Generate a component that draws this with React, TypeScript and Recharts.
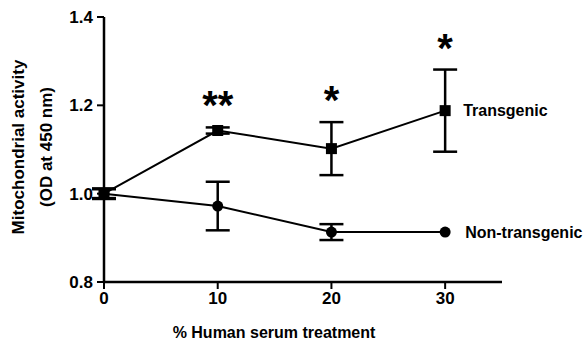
import React from 'react';
import { ComposedChart, Line, Scatter, XAxis, YAxis, ErrorBar, LabelList } from 'recharts';

// serum dose (%) and OD readings
const doses = [0, 10, 20, 30];
const transgenic = [1.0, 1.143, 1.102, 1.188];
const transgenicErr = [0.012, 0.007, 0.06, 0.093];
const nonTransgenic = [1.0, 0.972, 0.913, 0.913];
const nonTransgenicErr = [0.01, 0.055, 0.018, 0];
const significance = ['', '**', '*', '*'];
const xTicks = [0, 10, 20, 30];
const yTicks = [0.8, 1.0, 1.2, 1.4];

const font = '"Liberation Sans", Arial, sans-serif';

const data = doses.map((d, i) => ({
  dose: d,
  tg: transgenic[i],
  tgErr: transgenicErr[i],
  ntg: nonTransgenic[i],
  ntgErr: nonTransgenicErr[i] || undefined,
}));

const sigData = doses
  .map((d, i) => ({ dose: d, top: transgenic[i] + transgenicErr[i], sig: significance[i] }))
  .filter((d) => d.sig);

const SquareDot = (props: any) => {
  const { cx, cy } = props;
  return <rect key={`sq-${cx}`} x={cx - 5.5} y={cy - 5.5} width={11} height={11} fill="#000" />;
};

const RoundDot = (props: any) => {
  const { cx, cy } = props;
  return <circle key={`ci-${cx}`} cx={cx} cy={cy} r={5.5} fill="#000" />;
};

const Star = (props: any) => {
  const { cx, cy, payload } = props;
  return (
    <text x={cx} y={cy - 8} textAnchor="middle" fontSize={40} fontWeight="bold" fontFamily={font} fill="#000">
      {payload.sig}
    </text>
  );
};

const endLabel = (name: string, dx: number) => (props: any) => {
  const { x, y, value } = props;
  if (!value) return null;
  return (
    <text x={x + dx} y={y} dominantBaseline="central" fontSize={16} fontWeight="bold" fontFamily={font} fill="#000">
      {name}
    </text>
  );
};

const YTitle = () => (
  <g fontFamily={font} fontWeight="bold" fontSize={17} fill="#000">
    <text x={18} y={147} textAnchor="middle" dominantBaseline="central" transform="rotate(-90 18 147)">
      Mitochondrial activity
    </text>
    <text x={46} y={147} textAnchor="middle" dominantBaseline="central" transform="rotate(-90 46 147)">
      (OD at 450 nm)
    </text>
  </g>
);

const XTitle = () => (
  <text x={274} y={338} textAnchor="middle" fontFamily={font} fontWeight="bold" fontSize={16} fill="#000">
    % Human serum treatment
  </text>
);

export default function App() {
  return (
    <div style={{ position: 'absolute', left: 0, top: 0, width: 583, height: 350, background: '#fff' }}>
      <ComposedChart width={583} height={350} data={data} margin={{ top: 17, right: 81, left: 0, bottom: 0 }}>
        <XAxis
          dataKey="dose"
          type="number"
          domain={[0, 35]}
          ticks={xTicks}
          height={68}
          axisLine={{ stroke: '#000', strokeWidth: 2.5 }}
          tickLine={{ stroke: '#000', strokeWidth: 2 }}
          tickSize={7}
          tickMargin={3}
          tick={{ fill: '#000', fontSize: 17, fontWeight: 'bold', fontFamily: font }}
          label={{ content: () => <XTitle /> }}
        />
        <YAxis
          type="number"
          domain={[0.8, 1.4]}
          ticks={yTicks}
          width={104}
          tickFormatter={(v: number) => v.toFixed(1)}
          axisLine={{ stroke: '#000', strokeWidth: 2.5 }}
          tickLine={{ stroke: '#000', strokeWidth: 2 }}
          tickSize={7}
          tickMargin={4}
          tick={{ fill: '#000', fontSize: 17, fontWeight: 'bold', fontFamily: font }}
          label={{ content: () => <YTitle /> }}
        />
        <Line
          dataKey="ntg"
          stroke="#000"
          strokeWidth={2}
          dot={<RoundDot />}
          activeDot={false}
          isAnimationActive={false}
        >
          <ErrorBar dataKey="ntgErr" direction="y" width={12} stroke="#000" strokeWidth={2.5} />
          <LabelList
            dataKey={(d: any) => (d.dose === 30 ? 'x' : '')}
            content={endLabel('Non-transgenic', 20)}
          />
        </Line>
        <Line
          dataKey="tg"
          stroke="#000"
          strokeWidth={2}
          dot={<SquareDot />}
          activeDot={false}
          isAnimationActive={false}
        >
          <ErrorBar dataKey="tgErr" direction="y" width={12} stroke="#000" strokeWidth={2.5} />
          <LabelList
            dataKey={(d: any) => (d.dose === 30 ? 'x' : '')}
            content={endLabel('Transgenic', 18)}
          />
        </Line>
        <Scatter data={sigData} dataKey="top" shape={<Star />} isAnimationActive={false} />
      </ComposedChart>
    </div>
  );
}
